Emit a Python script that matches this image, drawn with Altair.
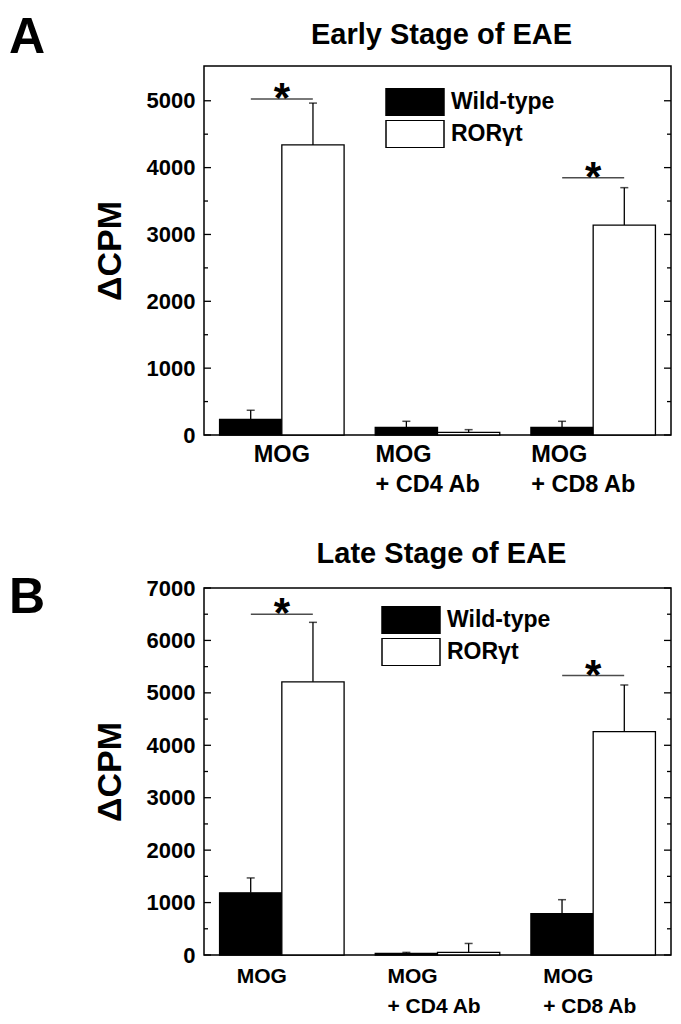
import altair as alt
import pandas as pd

FONT = "Liberation Sans"

categories = ["MOG", "MOG + CD4 Ab", "MOG + CD8 Ab"]
series = ["Wild-type", "RORγt"]
label_line1 = ["MOG", "MOG", "MOG"]
label_line2 = ["", "+ CD4 Ab", "+ CD8 Ab"]

# Panel A: Early Stage of EAE
a_wt_mean = [235, 115, 115]
a_wt_err = [135, 90, 90]
a_ror_mean = [4340, 40, 3140]
a_ror_err = [625, 40, 560]
a_sig_groups = ["MOG", "MOG + CD8 Ab"]
a_sig_line = [5025, 3850]
a_major = [0, 1000, 2000, 3000, 4000, 5000]
a_minor = [500, 1500, 2500, 3500, 4500]

# Panel B: Late Stage of EAE
b_wt_mean = [1185, 30, 790]
b_wt_err = [285, 20, 265]
b_ror_mean = [5210, 50, 4260]
b_ror_err = [1135, 170, 890]
b_sig_groups = ["MOG", "MOG + CD8 Ab"]
b_sig_line = [6500, 5330]
b_major = [0, 1000, 2000, 3000, 4000, 5000, 6000, 7000]
b_minor = [500, 1500, 2500, 3500, 4500, 5500, 6500]

W = 467


def make_panel(wt_mean, wt_err, ror_mean, ror_err, sig_groups, sig_line, ymax,
               major, minor, H, title, letter, lab_fs, lab_dx_first, lab_dx_rest,
               lab_y1, lab_y2, legend_x, legend_y, letter_x, letter_y,
               title_x, title_y):
    rows = []
    for i, g in enumerate(categories):
        rows.append(dict(group=g, series=series[0], mean=wt_mean[i],
                         upper=wt_mean[i] + wt_err[i]))
        rows.append(dict(group=g, series=series[1], mean=ror_mean[i],
                         upper=ror_mean[i] + ror_err[i]))
    bars_df = pd.DataFrame(rows)

    xenc = alt.X("group:N", sort=categories,
                 scale=alt.Scale(domain=categories, paddingInner=0.2, paddingOuter=0.1),
                 axis=None)
    xoff = alt.XOffset("series:N", sort=series,
                       scale=alt.Scale(domain=series, paddingInner=0, paddingOuter=0))
    yscale = alt.Scale(domain=[0, ymax], nice=False, zero=True)
    yaxis = alt.Axis(values=major, ticks=False, domain=False, grid=False,
                     format="d", labelFont=FONT, labelFontSize=22,
                     labelFontWeight="bold", labelColor="black", labelPadding=9,
                     title="ΔCPM", titleFont=FONT, titleFontSize=34,
                     titleFontWeight="bold", titleColor="black", titlePadding=19)

    def Y(field):
        return alt.Y(field, scale=yscale, axis=yaxis, title="ΔCPM")

    base = alt.Chart(bars_df)
    bars = base.mark_bar(stroke="black", strokeWidth=1.3, opacity=1).encode(
        x=xenc, xOffset=xoff,
        y=Y("mean:Q"),
        fill=alt.Fill("series:N", sort=series,
                      scale=alt.Scale(domain=series, range=["black", "white"]),
                      legend=alt.Legend(title=None, orient="none",
                                        legendX=legend_x, legendY=legend_y,
                                        symbolType="M-1,-0.47H1V0.47H-1Z",
                                        symbolSize=3364, symbolStrokeColor="black",
                                        symbolStrokeWidth=1.5, symbolOpacity=1,
                                        labelFont=FONT, labelFontSize=23,
                                        labelFontWeight="bold", labelColor="black",
                                        labelOffset=6, clipHeight=28,
                                        rowPadding=4, padding=0)),
    )
    err = base.mark_rule(color="black", strokeWidth=1.3).encode(
        x=xenc, xOffset=xoff, y=Y("mean:Q"), y2="upper:Q")
    cap = base.mark_tick(color="black", size=8, thickness=1.5,
                         orient="horizontal").encode(
        x=xenc, xOffset=xoff, y=Y("upper:Q"))

    sig_df = pd.DataFrame({"group": sig_groups, "line": sig_line, "star": ["*"] * len(sig_groups)})
    sig = alt.Chart(sig_df).mark_tick(color="black", size=62, thickness=1.5,
                                      orient="horizontal").encode(
        x=xenc, y=Y("line:Q"))
    star = alt.Chart(sig_df).mark_text(font=FONT, fontSize=42, fontWeight="bold",
                                       color="black", align="center",
                                       baseline="alphabetic", dy=13).encode(
        x=xenc, y=Y("line:Q"), text="star:N")

    major_df = pd.DataFrame({"v": major})
    minor_df = pd.DataFrame({"v": minor})

    def tick_layer(df, x1, x2):
        return alt.Chart(df).mark_rule(color="black", strokeWidth=1.3).encode(
            y=Y("v:Q"), x=alt.value(x1), x2=alt.value(x2))

    ticks = [tick_layer(major_df, 0, 7), tick_layer(minor_df, 0, 4),
             tick_layer(major_df, W - 7, W), tick_layer(minor_df, W - 4, W)]

    lab_df = pd.DataFrame({"group": categories, "line1": label_line1, "line2": label_line2})
    lab_first = alt.Chart(lab_df).transform_filter(
        alt.datum.group == categories[0]).mark_text(
        font=FONT, fontSize=lab_fs, fontWeight="bold", color="black",
        align="center", baseline="alphabetic", dx=lab_dx_first).encode(
        x=xenc, y=alt.value(H + lab_y1), text="line1:N")
    lab_rest1 = alt.Chart(lab_df).transform_filter(
        alt.datum.group != categories[0]).mark_text(
        font=FONT, fontSize=lab_fs, fontWeight="bold", color="black",
        align="left", baseline="alphabetic", dx=lab_dx_rest).encode(
        x=xenc, y=alt.value(H + lab_y1), text="line1:N")
    lab_rest2 = alt.Chart(lab_df).transform_filter(
        alt.datum.group != categories[0]).mark_text(
        font=FONT, fontSize=lab_fs, fontWeight="bold", color="black",
        align="left", baseline="alphabetic", dx=lab_dx_rest).encode(
        x=xenc, y=alt.value(H + lab_y2), text="line2:N")

    title_df = pd.DataFrame({"t": [title]})
    title_layer = alt.Chart(title_df).mark_text(
        font=FONT, fontSize=29, fontWeight="bold", color="black",
        align="center", baseline="alphabetic").encode(
        x=alt.value(title_x), y=alt.value(title_y), text="t:N")
    letter_df = pd.DataFrame({"t": [letter]})
    letter_layer = alt.Chart(letter_df).mark_text(
        font=FONT, fontSize=50, fontWeight="bold", color="black",
        align="left", baseline="alphabetic").encode(
        x=alt.value(letter_x), y=alt.value(letter_y), text="t:N")

    return alt.layer(bars, err, cap, sig, star, *ticks, lab_first, lab_rest1,
                     lab_rest2, title_layer, letter_layer).properties(width=W, height=H)


top = make_panel(a_wt_mean, a_wt_err, a_ror_mean, a_ror_err, a_sig_groups, a_sig_line,
                 5520, a_major, a_minor, 369, "Early Stage of EAE", "A",
                 23.5, 0, -62, 27, 57, 181, 22, -195, -13, W / 2 + 4, -22)
bottom = make_panel(b_wt_mean, b_wt_err, b_ror_mean, b_ror_err, b_sig_groups, b_sig_line,
                    7000, b_major, b_minor, 367, "Late Stage of EAE", "B",
                    21, -20, -50, 28, 58, 177, 18, -195, 25, W / 2 + 4, -25)

chart = alt.vconcat(top, bottom, spacing=41).resolve_scale(
    fill="independent").resolve_legend(fill="independent").properties(
    padding={"top": 4, "left": 0, "right": 0, "bottom": 0}).configure_view(
    stroke="black", strokeWidth=1.5)

chart.save("out.html", embed_options={"renderer": "svg", "actions": False})
